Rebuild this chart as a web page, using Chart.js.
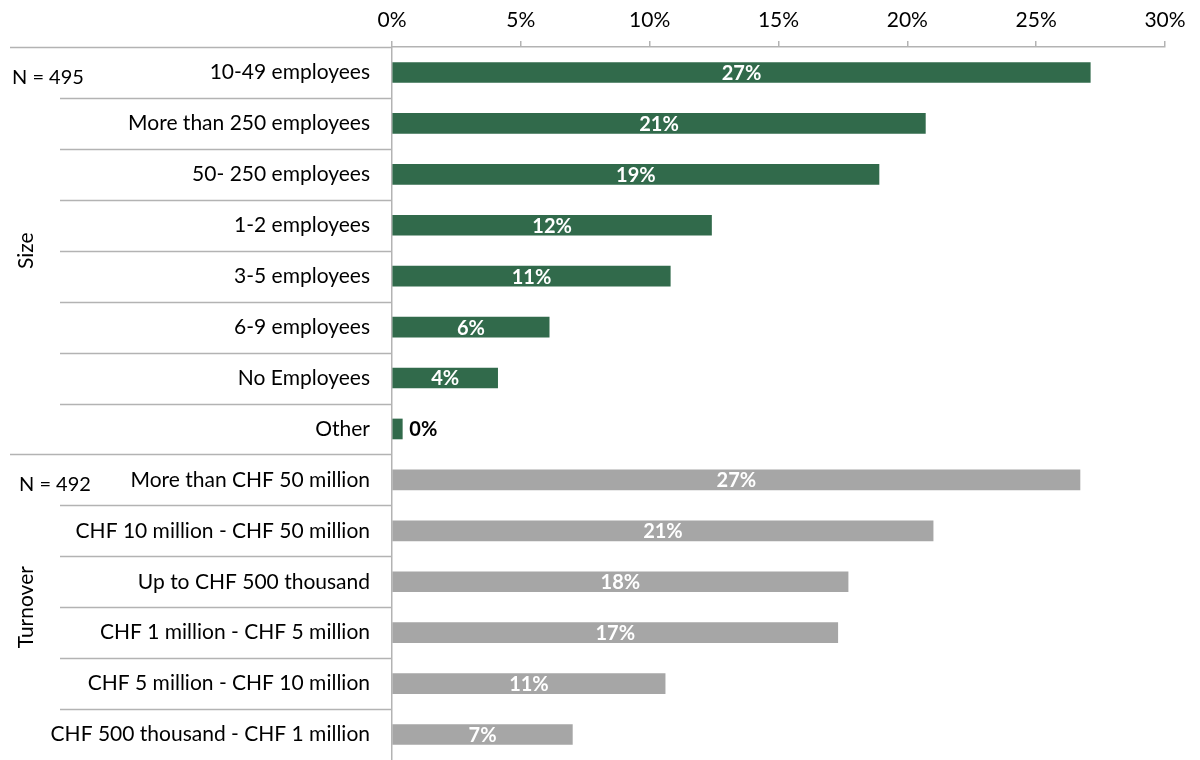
<!DOCTYPE html>
<html>
<head>
<meta charset="utf-8">
<script src="https://cdn.jsdelivr.net/npm/chart.js@4/dist/chart.umd.min.js"></script>
<style>
  html, body { margin: 0; padding: 0; background: #fff; }
  #wrap { width: 1200px; height: 760px; position: relative; }
</style>
</head>
<body>
<div id="wrap"><canvas id="chart"></canvas></div>
<script>
// ======== Data ========
const sizeLabels = ['10-49 employees', 'More than 250 employees', '50- 250 employees', '1-2 employees',
  '3-5 employees', '6-9 employees', 'No Employees', 'Other'];
const sizeValues = [27.1, 20.7, 18.9, 12.4, 10.8, 6.1, 4.1, 0.4];

const turnoverLabels = ['More than CHF 50 million', 'CHF 10 million - CHF 50 million', 'Up to CHF 500 thousand',
  'CHF 1 million - CHF 5 million', 'CHF 5 million - CHF 10 million', 'CHF 500 thousand - CHF 1 million'];
const turnoverValues = [26.7, 21.0, 17.7, 17.3, 10.6, 7.0];

const groups = [
  { name: 'Size', n: 'N = 495', count: sizeLabels.length, nX: 12 },
  { name: 'Turnover', n: 'N = 492', count: turnoverLabels.length, nX: 19 },
];
const xTicks = [0, 5, 10, 15, 20, 25, 30];

const GREEN = '#316a4b';
const GREY = '#a6a6a6';
const LINE = '#b3b3b3';
const FONT = 'Lato, "Open Sans", sans-serif';

const labels = sizeLabels.concat(turnoverLabels);
const values = sizeValues.concat(turnoverValues);
const colors = sizeValues.map(() => GREEN).concat(turnoverValues.map(() => GREY));

// ======== Left side: separators, group names, N ========
const sidePlugin = {
  id: 'side',
  afterDraw(chart) {
    const ctx = chart.ctx;
    const y = chart.scales.y;
    const x0 = chart.chartArea.left;
    const half = (y.getPixelForValue(1) - y.getPixelForValue(0)) / 2;
    ctx.save();
    ctx.strokeStyle = LINE;
    ctx.lineWidth = 1.5;
    let start = 0;
    groups.forEach(g => {
      for (let i = 0; i < g.count; i++) {
        const idx = start + i;
        const py = Math.round(y.getPixelForValue(idx) - half) + 0.5;
        ctx.beginPath();
        ctx.moveTo(i === 0 ? 10 : 60, py);
        ctx.lineTo(x0, py);
        ctx.stroke();
      }
      const top = y.getPixelForValue(start) - half;
      const bot = y.getPixelForValue(start + g.count - 1) + half;

      // group name, rotated
      ctx.save();
      ctx.translate(26, (top + bot) / 2);
      ctx.rotate(-Math.PI / 2);
      ctx.fillStyle = '#000';
      ctx.font = '21px ' + FONT;
      ctx.textAlign = 'center';
      ctx.textBaseline = 'middle';
      ctx.fillText(g.name, 0, 0);
      ctx.restore();

      // sample size next to first row
      ctx.fillStyle = '#000';
      ctx.font = '20px ' + FONT;
      ctx.textAlign = 'left';
      ctx.textBaseline = 'middle';
      ctx.fillText(g.n, g.nX, y.getPixelForValue(start) + 5);
      start += g.count;
    });
    ctx.restore();
  }
};

// ======== Value labels on bars ========
const valuePlugin = {
  id: 'values',
  afterDatasetsDraw(chart) {
    const ctx = chart.ctx;
    const meta = chart.getDatasetMeta(0);
    ctx.save();
    ctx.font = 'bold 20px ' + FONT;
    ctx.textBaseline = 'middle';
    meta.data.forEach((bar, i) => {
      const txt = Math.round(values[i]) + '%';
      if (values[i] < 1) {
        ctx.fillStyle = '#000';
        ctx.textAlign = 'left';
        ctx.fillText(txt, bar.x + 7, bar.y + 1);
      } else {
        ctx.fillStyle = '#fff';
        ctx.textAlign = 'center';
        ctx.fillText(txt, (bar.base + bar.x) / 2, bar.y + 1);
      }
    });
    ctx.restore();
  }
};

new Chart(document.getElementById('chart'), {
  type: 'bar',
  data: {
    labels: labels,
    datasets: [{
      data: values,
      backgroundColor: colors,
      barThickness: 20,
    }],
  },
  plugins: [sidePlugin, valuePlugin],
  options: {
    indexAxis: 'y',
    responsive: true,
    maintainAspectRatio: false,
    animation: false,
    layout: { padding: { left: 0, right: 35, top: 0, bottom: 0 } },
    plugins: { legend: { display: false }, tooltip: { enabled: false } },
    scales: {
      x: {
        position: 'top',
        min: 0,
        max: 30,
        afterBuildTicks: (s) => { s.ticks = xTicks.map(v => ({ value: v })); },
        afterFit: (s) => { s.height = 47; },
        ticks: {
          callback: v => v + '%',
          color: '#000',
          font: { family: FONT, size: 21 },
          padding: 8,
          maxRotation: 0,
        },
        grid: { drawOnChartArea: false, drawTicks: true, tickLength: 6, color: LINE, lineWidth: 1.5 },
        border: { color: LINE, width: 1.5 },
      },
      y: {
        afterFit: (s) => { s.width = 392; s.paddingTop = 0; s.paddingBottom = 0; },
        ticks: {
          color: '#000',
          font: { family: FONT, size: 21 },
          padding: 22,
          autoSkip: false,
        },
        grid: { display: false, drawTicks: false },
        border: { color: LINE, width: 1.5 },
      },
    },
  },
});
</script>
</body>
</html>
